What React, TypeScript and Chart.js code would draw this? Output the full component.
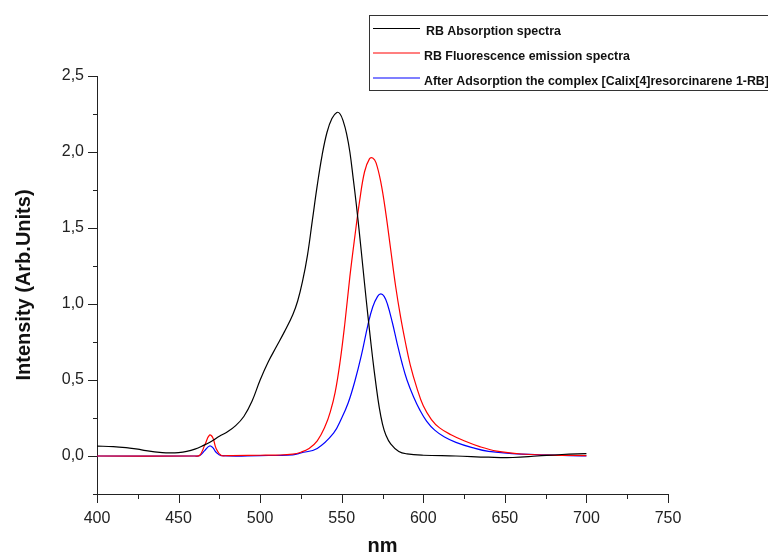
import React, { useEffect, useRef } from "react";
import { Chart, registerables } from "chart.js";

Chart.register(...registerables);

// ---- Data ----
const absX = [400, 410, 420, 425, 430, 440, 445, 450, 455, 460, 465, 470, 475, 480, 485, 490, 495, 500, 505, 510, 515, 520, 523, 526, 529, 532, 535, 538, 541, 544, 547, 549, 551, 553, 555, 557, 559, 561, 563, 565, 567, 569, 571, 573, 575, 577, 580, 585, 590, 600, 620, 640, 655, 670, 685, 700];
const absY = [0.065, 0.062, 0.052, 0.045, 0.035, 0.022, 0.02, 0.022, 0.03, 0.045, 0.068, 0.095, 0.13, 0.16, 0.2, 0.26, 0.36, 0.5, 0.62, 0.72, 0.82, 0.93, 1.02, 1.15, 1.32, 1.55, 1.78, 1.98, 2.13, 2.22, 2.26, 2.25, 2.2, 2.12, 2.0, 1.83, 1.65, 1.45, 1.24, 1.03, 0.83, 0.64, 0.47, 0.32, 0.21, 0.14, 0.08, 0.03, 0.014, 0.005, 0.0, -0.008, -0.01, 0.0, 0.01, 0.015];

const fluoX = [400, 460, 463, 466, 469, 471, 473, 476, 480, 500, 510, 520, 525, 530, 535, 540, 543, 546, 549, 552, 555, 558, 561, 564, 567, 569, 571, 574, 577, 580, 583, 586, 589, 592, 596, 600, 605, 610, 617, 625, 635, 645, 660, 676, 700];
const fluoY = [0, 0, 0.005, 0.07, 0.138, 0.12, 0.05, 0.005, 0.003, 0.005, 0.006, 0.012, 0.025, 0.05, 0.1, 0.2, 0.29, 0.42, 0.62, 0.88, 1.18, 1.44, 1.68, 1.87, 1.955, 1.96, 1.93, 1.8, 1.6, 1.36, 1.12, 0.92, 0.75, 0.6, 0.45, 0.33, 0.24, 0.185, 0.14, 0.1, 0.06, 0.032, 0.013, 0.006, 0.003];

const complexX = [400, 460, 463, 466, 469, 471, 473, 476, 500, 520, 525, 535, 545, 550, 554, 558, 562, 566, 569, 572, 574, 576, 578, 581, 584, 587, 590, 594, 598, 602, 607, 613, 620, 630, 640, 660, 700];
const complexY = [0, 0, 0.003, 0.035, 0.066, 0.055, 0.025, 0.003, 0.003, 0.008, 0.02, 0.05, 0.15, 0.25, 0.35, 0.49, 0.66, 0.86, 0.98, 1.05, 1.066, 1.05, 1.0, 0.88, 0.74, 0.61, 0.5, 0.39, 0.3, 0.23, 0.17, 0.125, 0.09, 0.055, 0.03, 0.012, 0.0];

const seriesNames = [
  "RB Absorption spectra",
  "RB Fluorescence emission spectra",
  "After Adsorption the complex [Calix[4]resorcinarene 1-RB]",
];
const seriesColors = ["#000000", "#ff0000", "#0000ff"];

const xMajorTicks = [400, 450, 500, 550, 600, 650, 700, 750];
const xMinorTicks = [425, 475, 525, 575, 625, 675, 725];
const yMajorTicks = [0.0, 0.5, 1.0, 1.5, 2.0, 2.5];
const yMinorTicks = [-0.25, 0.25, 0.75, 1.25, 1.75, 2.25];
const yTickLabels = ["0,0", "0,5", "1,0", "1,5", "2,0", "2,5"];

const xTitle = "nm";
const yTitle = "Intensity (Arb.Units)";

const FONT = "'Liberation Sans', Arial, sans-serif";

const toPoints = (xs: number[], ys: number[]) => xs.map((x, i) => ({ x, y: ys[i] }));

const tickAndLegendPlugin = {
  id: "tickAndLegend",
  afterDraw(chart: any) {
    const ctx = chart.ctx;
    const xs = chart.scales.x;
    const ys = chart.scales.y;
    const left = chart.chartArea.left;
    const bottom = chart.chartArea.bottom;
    ctx.save();
    ctx.strokeStyle = "#222";
    ctx.lineWidth = 1;
    ctx.beginPath();
    xMajorTicks.forEach((v) => {
      const px = Math.round(xs.getPixelForValue(v)) + 0.5;
      ctx.moveTo(px, bottom);
      ctx.lineTo(px, bottom + 9);
    });
    xMinorTicks.forEach((v) => {
      const px = Math.round(xs.getPixelForValue(v)) + 0.5;
      ctx.moveTo(px, bottom);
      ctx.lineTo(px, bottom + 5);
    });
    yMajorTicks.forEach((v) => {
      const py = Math.round(ys.getPixelForValue(v)) + 0.5;
      ctx.moveTo(left, py);
      ctx.lineTo(left - 9, py);
    });
    yMinorTicks.forEach((v) => {
      const py = Math.round(ys.getPixelForValue(v)) + 0.5;
      ctx.moveTo(left, py);
      ctx.lineTo(left - 4, py);
    });
    ctx.stroke();

    // Legend box
    ctx.strokeStyle = "#333";
    ctx.strokeRect(369.5, 15.5, 410, 75);
    const rows = [32, 56.5, 81.5];
    chart.data.datasets.forEach((ds: any, i: number) => {
      const cy = rows[i];
      ctx.strokeStyle = ds.borderColor;
      ctx.lineWidth = 1.2;
      ctx.beginPath();
      ctx.moveTo(373, cy - 3.5);
      ctx.lineTo(420, cy - 3.5);
      ctx.stroke();
      ctx.fillStyle = "#111";
      ctx.font = `bold 12.4px ${FONT}`;
      ctx.textBaseline = "middle";
      ctx.textAlign = "left";
      ctx.fillText(ds.label, i === 0 ? 426 : 424, cy);
    });
    ctx.restore();
  },
};

export default function App() {
  const canvasRef = useRef<HTMLCanvasElement | null>(null);

  useEffect(() => {
    if (!canvasRef.current) return;
    const chart = new Chart(canvasRef.current, {
      type: "line",
      data: {
        datasets: [
          { label: seriesNames[0], data: toPoints(absX, absY) },
          { label: seriesNames[1], data: toPoints(fluoX, fluoY) },
          { label: seriesNames[2], data: toPoints(complexX, complexY) },
        ].map((d, i) => ({
          ...d,
          borderColor: seriesColors[i],
          backgroundColor: seriesColors[i],
          borderWidth: 1.2,
          pointRadius: 0,
          fill: false,
          tension: 0.4,
        })),
      },
      options: {
        animation: false,
        responsive: true,
        maintainAspectRatio: false,
        layout: { padding: { top: 76, right: 100, left: 0, bottom: 0 } },
        plugins: {
          legend: { display: false },
          tooltip: { enabled: false },
        },
        scales: {
          x: {
            type: "linear",
            min: 400,
            max: 750,
            afterFit: (scale: any) => {
              scale.height = 62;
            },
            afterBuildTicks: (scale: any) => {
              scale.ticks = xMajorTicks.map((v) => ({ value: v }));
            },
            grid: { display: true, drawOnChartArea: false, drawTicks: false },
            border: { display: true, color: "#222", width: 1 },
            ticks: {
              padding: 15,
              color: "#222",
              font: { family: FONT, size: 16 },
              maxRotation: 0,
              callback: (v: any) => String(v),
            },
            title: {
              display: true,
              text: xTitle,
              color: "#111",
              font: { family: FONT, size: 20, weight: "bold" },
              padding: { top: 0, bottom: -2 },
            },
          },
          y: {
            type: "linear",
            min: -0.25,
            max: 2.5,
            afterFit: (scale: any) => {
              scale.width = 97;
            },
            afterBuildTicks: (scale: any) => {
              scale.ticks = yMajorTicks.map((v) => ({ value: v }));
            },
            grid: { display: true, drawOnChartArea: false, drawTicks: false },
            border: { display: true, color: "#222", width: 1 },
            ticks: {
              padding: 13,
              color: "#222",
              font: { family: FONT, size: 16 },
              callback: (v: any) => {
                const idx = yMajorTicks.findIndex((t) => Math.abs(t - v) < 1e-6);
                return idx >= 0 ? yTickLabels[idx] : "";
              },
            },
            title: {
              display: true,
              text: yTitle,
              color: "#111",
              font: { family: FONT, size: 20, weight: "bold" },
              padding: { top: 12, bottom: 0 },
            },
          },
        },
      },
      plugins: [tickAndLegendPlugin],
    });
    return () => chart.destroy();
  }, []);

  return (
    <div style={{ position: "fixed", left: 0, top: 0, width: 768, height: 556, background: "#fff" }}>
      <canvas ref={canvasRef} />
    </div>
  );
}
